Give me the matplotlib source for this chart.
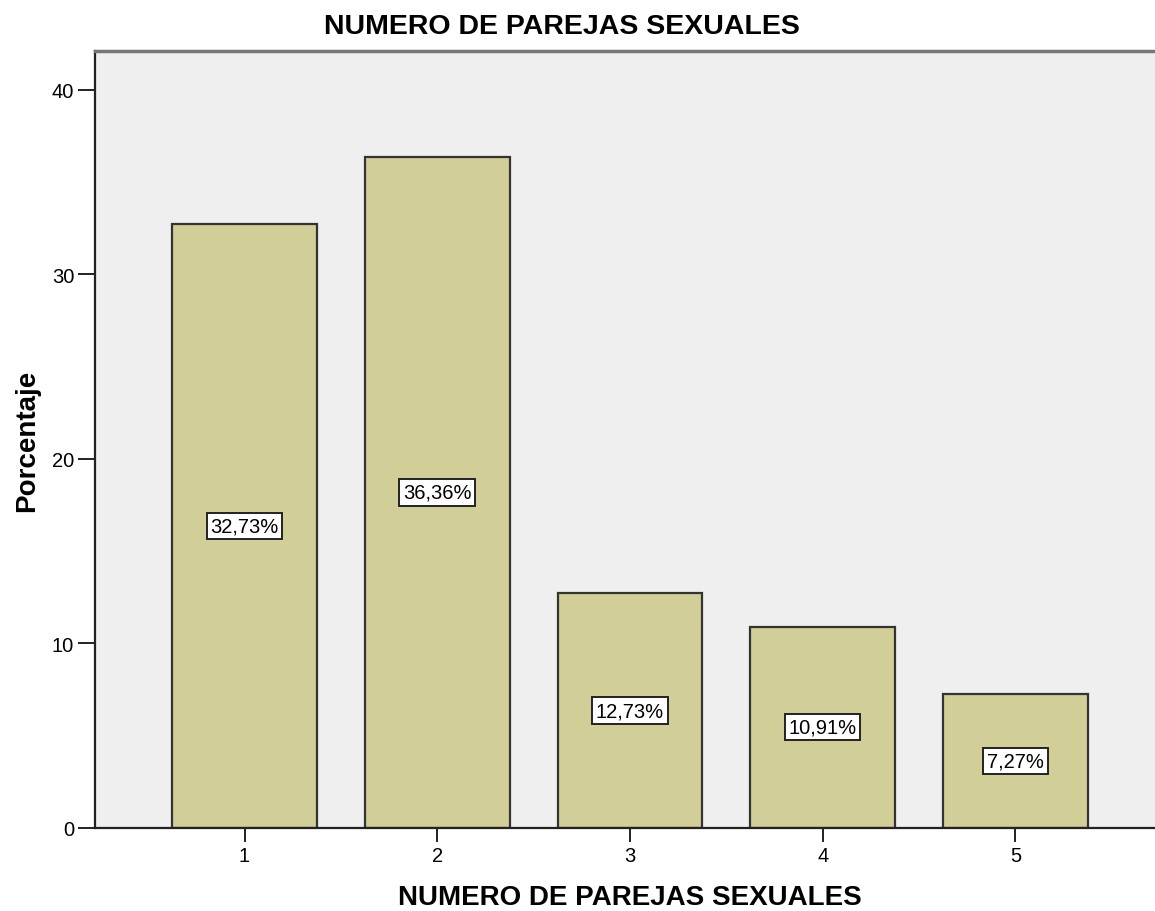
import matplotlib
matplotlib.use("Agg")
import matplotlib.pyplot as plt

categorias = ["1", "2", "3", "4", "5"]
porcentajes = [32.73, 36.36, 12.73, 10.91, 7.27]
etiquetas = ["32,73%", "36,36%", "12,73%", "10,91%", "7,27%"]
yticks = [0, 10, 20, 30, 40]

plt.rcParams['font.family'] = ['Liberation Sans', 'DejaVu Sans']

fig = plt.figure(figsize=(11.55, 9.12), dpi=100)
# the frame runs a little past the right edge of the image
ax = fig.add_axes([95 / 1155, 83 / 912, 1070 / 1155, 777 / 912])
ax.set_facecolor("#efefef")

x = list(range(1, len(categorias) + 1))
ax.bar(x, porcentajes, width=0.752, color="#d2ce98", edgecolor="#333333", linewidth=1.6, zorder=2)

for xi, v, t in zip(x, porcentajes, etiquetas):
    ax.text(xi, v / 2, t, ha="center", va="center", fontsize=14.5, zorder=3,
            bbox=dict(boxstyle="square,pad=0.18", fc="white", ec="#222222", lw=1.4))

ax.set_xlim(0.224, 5.776)
ax.set_ylim(0, 42.1)
ax.set_xticks(x)
ax.set_xticklabels(categorias)
ax.set_yticks(yticks)
ax.tick_params(axis="both", labelsize=14.5, length=12, width=1.4, color="#222222", pad=3)
ax.tick_params(axis="x", length=10)

for s in ("left", "bottom"):
    ax.spines[s].set_color("#222222")
    ax.spines[s].set_linewidth(1.6)
ax.spines["top"].set_color("#777777")
ax.spines["top"].set_linewidth(2.5)
ax.spines["right"].set_visible(False)

fig.text(562 / 1155, 1 - 27 / 912, "NUMERO DE PAREJAS SEXUALES", ha="center", va="center",
         fontsize=20.5, fontweight="bold")
fig.text(630 / 1155, 1 - 898 / 912, "NUMERO DE PAREJAS SEXUALES", ha="center", va="center",
         fontsize=20, fontweight="bold")
fig.text(27 / 1155, 1 - 441 / 912, "Porcentaje", ha="center", va="center", rotation=90,
         fontsize=20, fontweight="bold")

fig.savefig("out.png", dpi=100)
